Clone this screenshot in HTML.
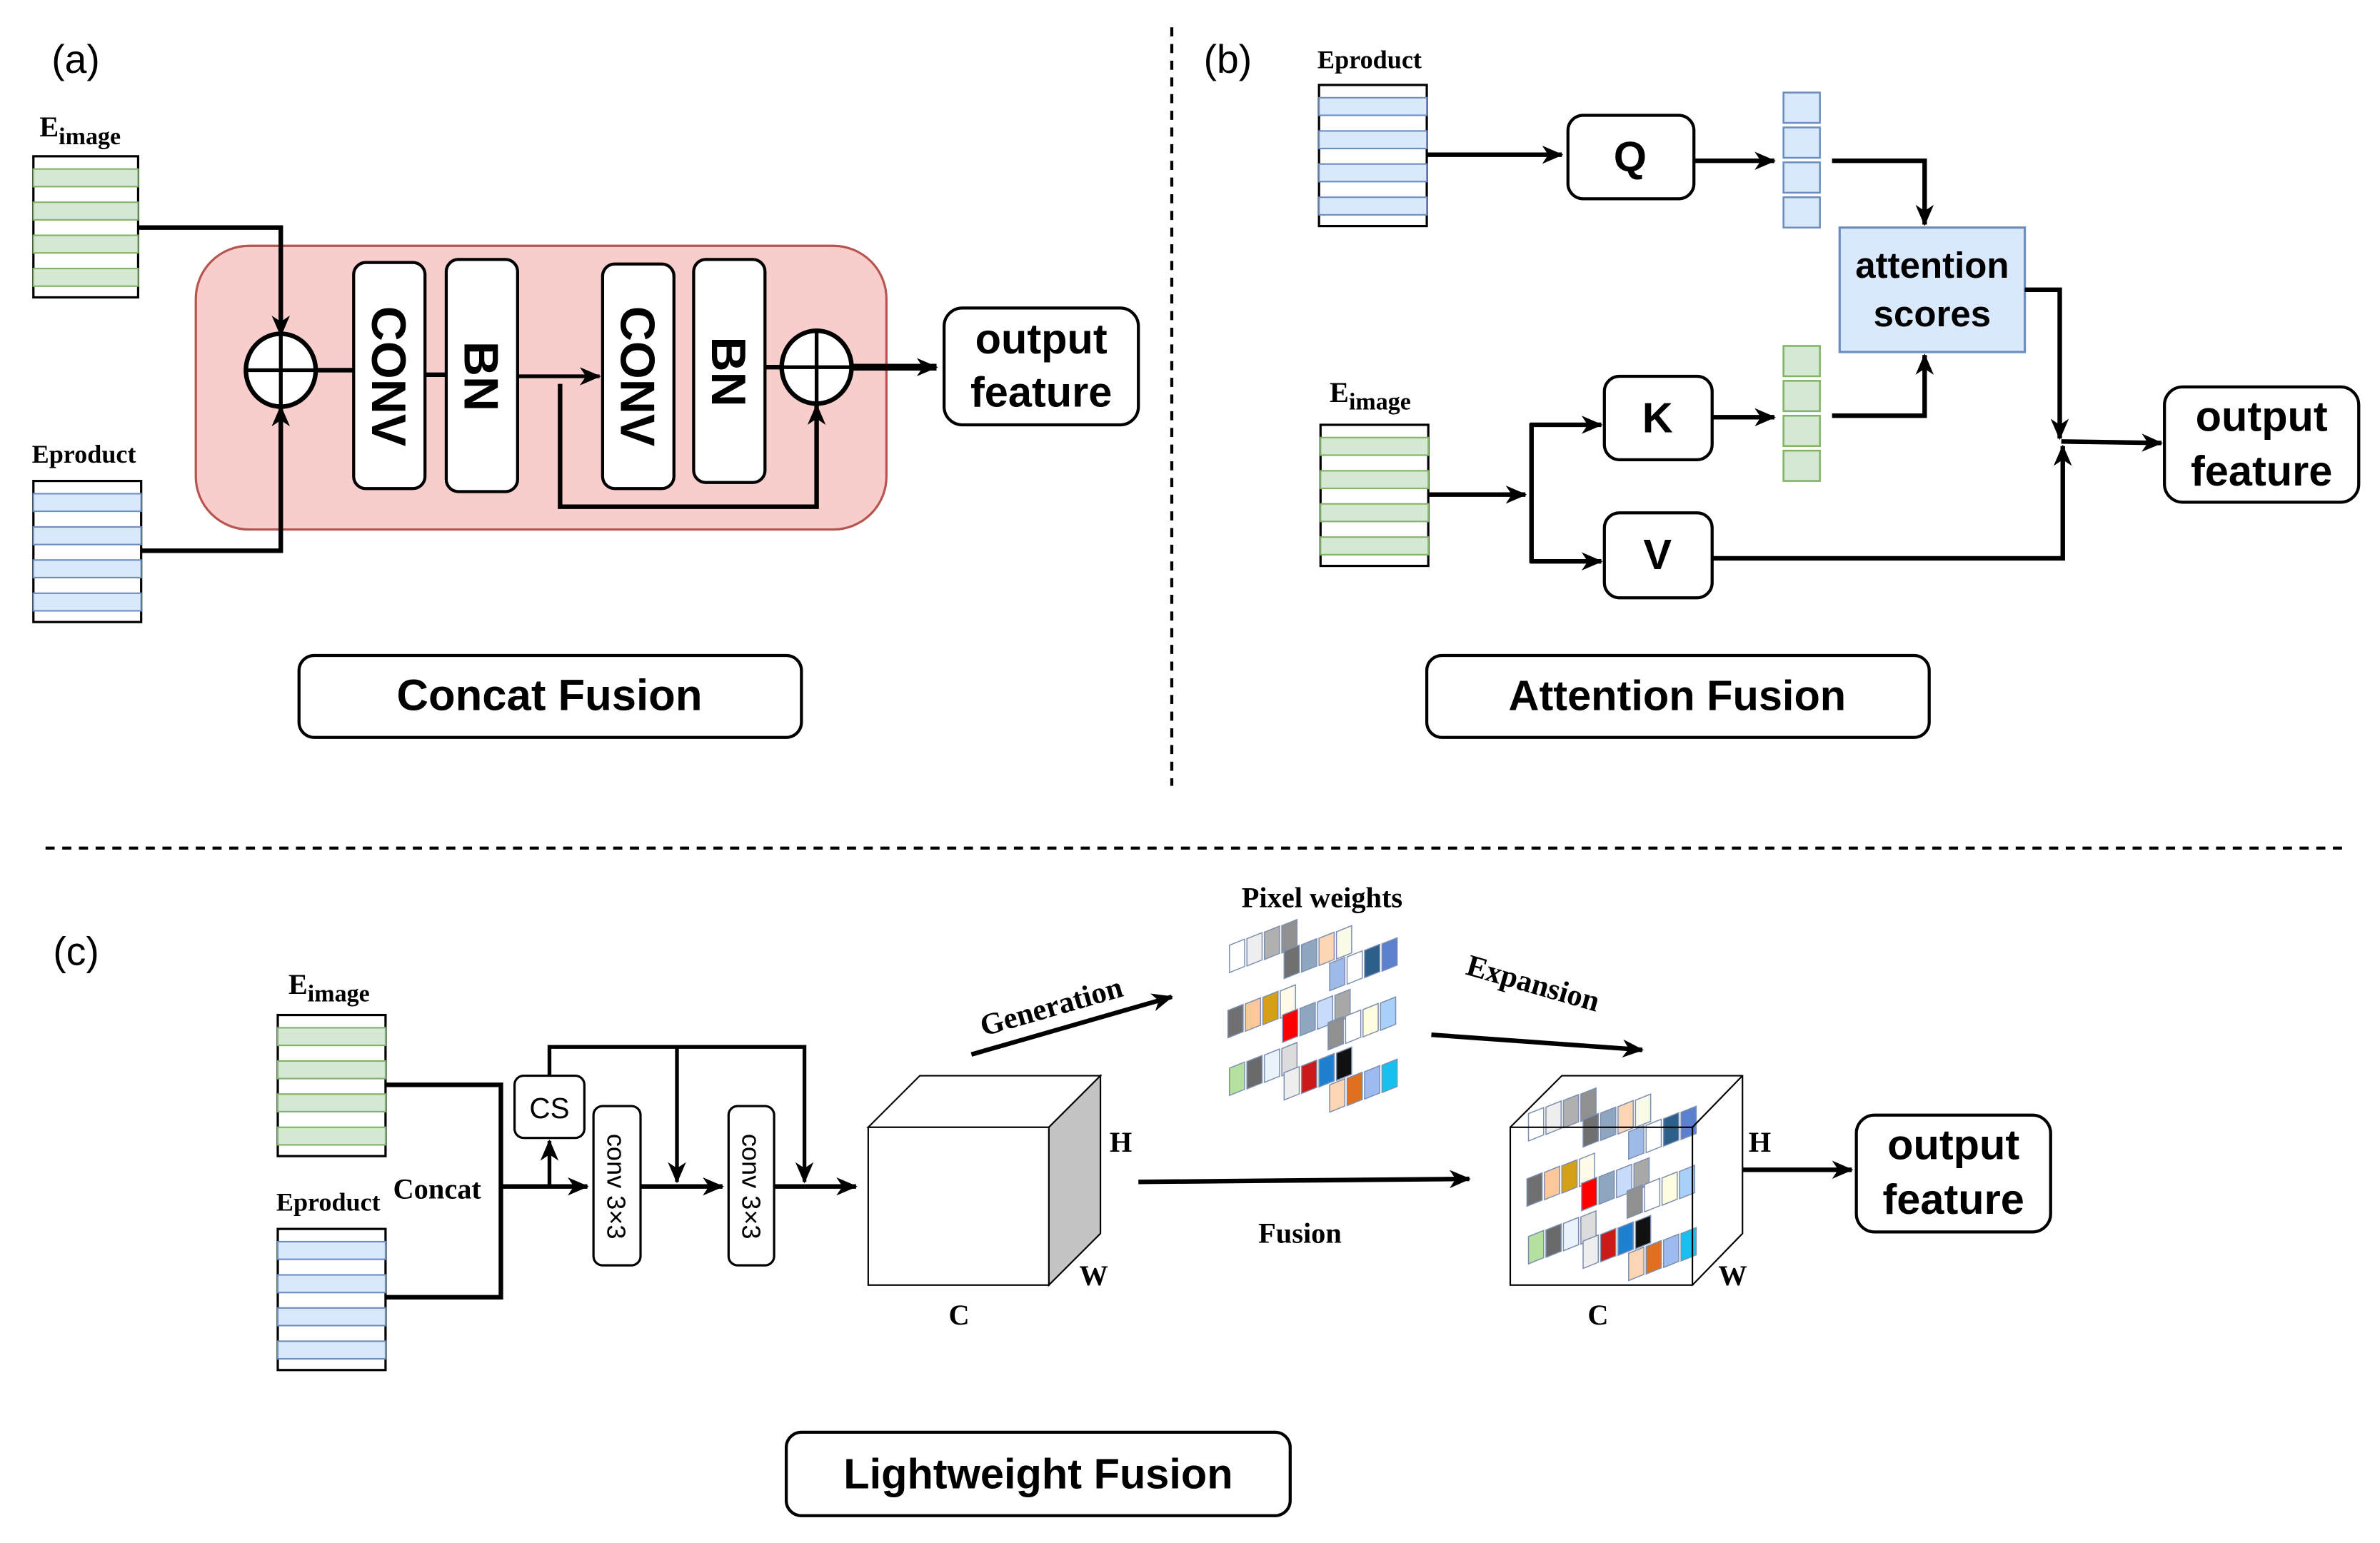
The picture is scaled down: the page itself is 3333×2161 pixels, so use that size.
<!DOCTYPE html>
<html><head><meta charset="utf-8"><style>
html,body{margin:0;padding:0;background:#fff}
svg{display:block}
.s{font-family:"Liberation Serif",serif;font-weight:bold}
.a{font-family:"Liberation Sans",sans-serif}
.ab{font-family:"Liberation Sans",sans-serif;font-weight:bold}
</style></head><body>
<svg xmlns="http://www.w3.org/2000/svg" width="3333" height="2161" viewBox="0 0 1568 1017" preserveAspectRatio="none">
<defs>
<marker id="ar" markerUnits="userSpaceOnUse" markerWidth="16" markerHeight="14" refX="13" refY="6" orient="auto">
<path d="M0,0 L14,6 L0,12 L4,6 z" fill="#000"/>
</marker>
<g id="tile"><polygon points="0,0 10,-4 10,-22 0,-18" stroke="#7d8fb0" stroke-width="0.7"/></g>
<g id="pw">
<g transform="translate(810,641)">
<use href="#tile" fill="#fff"/><use href="#tile" x="11.5" y="-4.3" fill="#eee"/><use href="#tile" x="23" y="-8.6" fill="#b0b0b0"/><use href="#tile" x="34.5" y="-12.9" fill="#909090"/></g>
<g transform="translate(846,645)">
<use href="#tile" fill="#707070"/><use href="#tile" x="11.5" y="-4.3" fill="#8ea6c0"/><use href="#tile" x="23" y="-8.6" fill="#fcd5b4"/><use href="#tile" x="34.5" y="-12.9" fill="#fafae8"/></g>
<g transform="translate(876,653)">
<use href="#tile" fill="#9ebbe8"/><use href="#tile" x="11.5" y="-4.3" fill="#fff"/><use href="#tile" x="23" y="-8.6" fill="#2c5f8a"/><use href="#tile" x="34.5" y="-12.9" fill="#5b80d0"/></g>
<g transform="translate(809,684)">
<use href="#tile" fill="#707070"/><use href="#tile" x="11.5" y="-4.3" fill="#fcc89b"/><use href="#tile" x="23" y="-8.6" fill="#d4a017"/><use href="#tile" x="34.5" y="-12.9" fill="#fffbe8"/></g>
<g transform="translate(845,687)">
<use href="#tile" fill="#ff0000"/><use href="#tile" x="11.5" y="-4.3" fill="#8ea6c0"/><use href="#tile" x="23" y="-8.6" fill="#c6dcfa"/><use href="#tile" x="34.5" y="-12.9" fill="#a8a8a8"/></g>
<g transform="translate(875,692)">
<use href="#tile" fill="#909090"/><use href="#tile" x="11.5" y="-4.3" fill="#fff"/><use href="#tile" x="23" y="-8.6" fill="#fffde0"/><use href="#tile" x="34.5" y="-12.9" fill="#a8d0f8"/></g>
<g transform="translate(810,722)">
<use href="#tile" fill="#b4e0a0"/><use href="#tile" x="11.5" y="-4.3" fill="#6a6a6a"/><use href="#tile" x="23" y="-8.6" fill="#eaf2fb"/><use href="#tile" x="34.5" y="-12.9" fill="#dcdcdc"/></g>
<g transform="translate(846,725)">
<use href="#tile" fill="#eee"/><use href="#tile" x="11.5" y="-4.3" fill="#cc1a1a"/><use href="#tile" x="23" y="-8.6" fill="#1f7fd0"/><use href="#tile" x="34.5" y="-12.9" fill="#111"/></g>
<g transform="translate(876,733)">
<use href="#tile" fill="#fcd5b4"/><use href="#tile" x="11.5" y="-4.3" fill="#e07020"/><use href="#tile" x="23" y="-8.6" fill="#9ebbf0"/><use href="#tile" x="34.5" y="-12.9" fill="#18c0f0"/></g>
</g>
</defs>

<!-- ===== (a) ===== -->
<text x="34" y="48" class="a" font-size="26">(a)</text>
<text x="26" y="90" class="s" font-size="19">E<tspan font-size="16" dy="5">image</tspan></text>
<g>
<rect x="22" y="103" width="69" height="93" fill="#fff" stroke="#000" stroke-width="1.5"/>
<rect x="22" y="111.4" width="69" height="11.6" fill="#d5e8d4" stroke="#82b366"/>
<rect x="22" y="133.3" width="69" height="11.6" fill="#d5e8d4" stroke="#82b366"/>
<rect x="22" y="155.1" width="69" height="11.6" fill="#d5e8d4" stroke="#82b366"/>
<rect x="22" y="177" width="69" height="11.6" fill="#d5e8d4" stroke="#82b366"/>
</g>
<text x="21" y="305" class="s" font-size="17">Eproduct</text>
<g>
<rect x="22" y="317" width="71" height="93" fill="#fff" stroke="#000" stroke-width="1.5"/>
<rect x="22" y="325.4" width="71" height="11.6" fill="#dae8fc" stroke="#6c8ebf"/>
<rect x="22" y="347.3" width="71" height="11.6" fill="#dae8fc" stroke="#6c8ebf"/>
<rect x="22" y="369.1" width="71" height="11.6" fill="#dae8fc" stroke="#6c8ebf"/>
<rect x="22" y="391" width="71" height="11.6" fill="#dae8fc" stroke="#6c8ebf"/>
</g>
<rect x="129" y="162" width="455" height="187" rx="35" fill="#f8cecc" stroke="#b85450" stroke-width="1.5"/>
<polyline points="91,150 185,150 185,221" fill="none" stroke="#000" stroke-width="3" marker-end="url(#ar)"/>
<polyline points="93,363 185,363 185,268" fill="none" stroke="#000" stroke-width="3" marker-end="url(#ar)"/>
<ellipse cx="185" cy="244" rx="23" ry="24" fill="#fff" stroke="#000" stroke-width="3"/>
<line x1="162" y1="244" x2="208" y2="244" stroke="#000" stroke-width="2.5"/>
<line x1="185" y1="220" x2="185" y2="268" stroke="#000" stroke-width="2.5"/>
<line x1="208" y1="244" x2="233" y2="244" stroke="#000" stroke-width="3"/>
<line x1="280" y1="247" x2="294" y2="247" stroke="#000" stroke-width="3"/>
<line x1="341" y1="248" x2="395" y2="248" stroke="#000" stroke-width="2.5" marker-end="url(#ar)"/>
<rect x="233" y="173" width="47" height="149" rx="8" fill="#fff" stroke="#000" stroke-width="2"/>
<rect x="294" y="171" width="47" height="153" rx="8" fill="#fff" stroke="#000" stroke-width="2"/>
<rect x="397" y="174" width="47" height="148" rx="8" fill="#fff" stroke="#000" stroke-width="2"/>
<rect x="457" y="171" width="47" height="147" rx="8" fill="#fff" stroke="#000" stroke-width="2"/>
<text transform="translate(245,248) rotate(90)" text-anchor="middle" class="ab" font-size="32">CONV</text>
<text transform="translate(306,248) rotate(90)" text-anchor="middle" class="ab" font-size="32">BN</text>
<text transform="translate(409,248) rotate(90)" text-anchor="middle" class="ab" font-size="32">CONV</text>
<text transform="translate(469,245) rotate(90)" text-anchor="middle" class="ab" font-size="32">BN</text>
<polyline points="369,253 369,334 538,334 538,267" fill="none" stroke="#000" stroke-width="3" marker-end="url(#ar)"/>
<line x1="504" y1="242" x2="515" y2="242" stroke="#000" stroke-width="3"/>
<ellipse cx="538" cy="242" rx="23" ry="24" fill="#fff" stroke="#000" stroke-width="3"/>
<line x1="515" y1="242" x2="561" y2="242" stroke="#000" stroke-width="2.5"/>
<line x1="538" y1="218" x2="538" y2="266" stroke="#000" stroke-width="2.5"/>
<line x1="561" y1="242" x2="617" y2="242" stroke="#000" stroke-width="4.5" marker-end="url(#ar)"/>
<rect x="622" y="203" width="128" height="77" rx="12" fill="#fff" stroke="#000" stroke-width="2"/>
<text x="686" y="233" text-anchor="middle" class="ab" font-size="28">output</text>
<text x="686" y="268" text-anchor="middle" class="ab" font-size="28">feature</text>
<rect x="197" y="432" width="331" height="54" rx="10" fill="#fff" stroke="#000" stroke-width="2"/>
<text x="362" y="468" text-anchor="middle" class="ab" font-size="29">Concat Fusion</text>

<line x1="772" y1="18" x2="772" y2="518" stroke="#000" stroke-width="2" stroke-dasharray="6,5"/>
<line x1="30" y1="559" x2="1545" y2="559" stroke="#000" stroke-width="2" stroke-dasharray="6,5"/>

<!-- ===== (b) ===== -->
<text x="793" y="48" class="a" font-size="26">(b)</text>
<text x="868" y="45" class="s" font-size="17">Eproduct</text>
<g>
<rect x="869" y="56" width="71" height="93" fill="#fff" stroke="#000" stroke-width="1.5"/>
<rect x="869" y="64.4" width="71" height="11.6" fill="#dae8fc" stroke="#6c8ebf"/>
<rect x="869" y="86.3" width="71" height="11.6" fill="#dae8fc" stroke="#6c8ebf"/>
<rect x="869" y="108.1" width="71" height="11.6" fill="#dae8fc" stroke="#6c8ebf"/>
<rect x="869" y="130" width="71" height="11.6" fill="#dae8fc" stroke="#6c8ebf"/>
</g>
<line x1="940" y1="102" x2="1029" y2="102" stroke="#000" stroke-width="3" marker-end="url(#ar)"/>
<rect x="1033" y="76" width="83" height="55" rx="10" fill="#fff" stroke="#000" stroke-width="2"/>
<text x="1074" y="113" text-anchor="middle" class="ab" font-size="28">Q</text>
<line x1="1116" y1="106" x2="1169" y2="106" stroke="#000" stroke-width="3" marker-end="url(#ar)"/>
<g fill="#dae8fc" stroke="#6c8ebf" stroke-width="1.2">
<rect x="1175" y="61" width="24" height="20"/><rect x="1175" y="84" width="24" height="20"/><rect x="1175" y="107" width="24" height="20"/><rect x="1175" y="130" width="24" height="20"/>
</g>
<polyline points="1207,106 1268,106 1268,148" fill="none" stroke="#000" stroke-width="3" marker-end="url(#ar)"/>
<rect x="1212" y="150" width="122" height="82" fill="#dae8fc" stroke="#6c8ebf" stroke-width="1.5"/>
<text x="1273" y="183" text-anchor="middle" class="ab" font-size="24">attention</text>
<text x="1273" y="215" text-anchor="middle" class="ab" font-size="24">scores</text>
<text x="876" y="265" class="s" font-size="19">E<tspan font-size="16" dy="5">image</tspan></text>
<g>
<rect x="870" y="280" width="71" height="93" fill="#fff" stroke="#000" stroke-width="1.5"/>
<rect x="870" y="288.4" width="71" height="11.6" fill="#d5e8d4" stroke="#82b366"/>
<rect x="870" y="310.3" width="71" height="11.6" fill="#d5e8d4" stroke="#82b366"/>
<rect x="870" y="332.1" width="71" height="11.6" fill="#d5e8d4" stroke="#82b366"/>
<rect x="870" y="354" width="71" height="11.6" fill="#d5e8d4" stroke="#82b366"/>
</g>
<line x1="941" y1="326" x2="1005" y2="326" stroke="#000" stroke-width="3" marker-end="url(#ar)"/>
<line x1="1009" y1="279" x2="1009" y2="371" stroke="#000" stroke-width="3"/>
<line x1="1008" y1="280" x2="1055" y2="280" stroke="#000" stroke-width="3" marker-end="url(#ar)"/>
<line x1="1008" y1="370" x2="1055" y2="370" stroke="#000" stroke-width="3" marker-end="url(#ar)"/>
<rect x="1057" y="248" width="71" height="55" rx="10" fill="#fff" stroke="#000" stroke-width="2"/>
<text x="1092" y="285" text-anchor="middle" class="ab" font-size="28">K</text>
<rect x="1057" y="338" width="71" height="56" rx="10" fill="#fff" stroke="#000" stroke-width="2"/>
<text x="1092" y="375" text-anchor="middle" class="ab" font-size="28">V</text>
<line x1="1128" y1="275" x2="1169" y2="275" stroke="#000" stroke-width="3" marker-end="url(#ar)"/>
<g fill="#d5e8d4" stroke="#82b366" stroke-width="1.2">
<rect x="1175" y="228" width="24" height="20"/><rect x="1175" y="251" width="24" height="20"/><rect x="1175" y="274" width="24" height="20"/><rect x="1175" y="297" width="24" height="20"/>
</g>
<polyline points="1207,274 1268,274 1268,234" fill="none" stroke="#000" stroke-width="3" marker-end="url(#ar)"/>
<polyline points="1128,368 1359,368 1359,294" fill="none" stroke="#000" stroke-width="3" marker-end="url(#ar)"/>
<polyline points="1334,191 1357,191 1357,289" fill="none" stroke="#000" stroke-width="3" marker-end="url(#ar)"/>
<line x1="1358" y1="291" x2="1424" y2="292" stroke="#000" stroke-width="3" marker-end="url(#ar)"/>
<rect x="1426" y="255" width="128" height="76" rx="12" fill="#fff" stroke="#000" stroke-width="2"/>
<text x="1490" y="284" text-anchor="middle" class="ab" font-size="28">output</text>
<text x="1490" y="320" text-anchor="middle" class="ab" font-size="28">feature</text>
<rect x="940" y="432" width="331" height="54" rx="10" fill="#fff" stroke="#000" stroke-width="2"/>
<text x="1105" y="468" text-anchor="middle" class="ab" font-size="28">Attention Fusion</text>

<!-- ===== (c) ===== -->
<text x="35" y="636" class="a" font-size="26">(c)</text>
<text x="190" y="655" class="s" font-size="19">E<tspan font-size="16" dy="5">image</tspan></text>
<g>
<rect x="183" y="669" width="71" height="93" fill="#fff" stroke="#000" stroke-width="1.5"/>
<rect x="183" y="677.4" width="71" height="11.6" fill="#d5e8d4" stroke="#82b366"/>
<rect x="183" y="699.3" width="71" height="11.6" fill="#d5e8d4" stroke="#82b366"/>
<rect x="183" y="721.1" width="71" height="11.6" fill="#d5e8d4" stroke="#82b366"/>
<rect x="183" y="743" width="71" height="11.6" fill="#d5e8d4" stroke="#82b366"/>
</g>
<text x="182" y="798" class="s" font-size="17">Eproduct</text>
<g>
<rect x="183" y="810" width="71" height="93" fill="#fff" stroke="#000" stroke-width="1.5"/>
<rect x="183" y="818.4" width="71" height="11.6" fill="#dae8fc" stroke="#6c8ebf"/>
<rect x="183" y="840.3" width="71" height="11.6" fill="#dae8fc" stroke="#6c8ebf"/>
<rect x="183" y="862.1" width="71" height="11.6" fill="#dae8fc" stroke="#6c8ebf"/>
<rect x="183" y="884" width="71" height="11.6" fill="#dae8fc" stroke="#6c8ebf"/>
</g>
<polyline points="254,715 330,715 330,855 254,855" fill="none" stroke="#000" stroke-width="3"/>
<text x="259" y="790" class="s" font-size="19">Concat</text>
<line x1="330" y1="782" x2="387" y2="782" stroke="#000" stroke-width="3" marker-end="url(#ar)"/>
<line x1="362" y1="782" x2="362" y2="752" stroke="#000" stroke-width="2.5" marker-end="url(#ar)"/>
<polyline points="362,709 362,690 530,690 530,779" fill="none" stroke="#000" stroke-width="2.5" marker-end="url(#ar)"/>
<line x1="446" y1="690" x2="446" y2="779" stroke="#000" stroke-width="2.5" marker-end="url(#ar)"/>
<rect x="339" y="709" width="46" height="41" rx="6" fill="#fff" stroke="#000" stroke-width="1.5"/>
<text x="362" y="737" text-anchor="middle" class="a" font-size="19">CS</text>
<rect x="391" y="729" width="31" height="105" rx="6" fill="#fff" stroke="#000" stroke-width="1.5"/>
<text transform="translate(400,782) rotate(90)" text-anchor="middle" class="a" font-size="17">conv 3×3</text>
<line x1="422" y1="782" x2="476" y2="782" stroke="#000" stroke-width="3" marker-end="url(#ar)"/>
<rect x="480" y="729" width="30" height="105" rx="6" fill="#fff" stroke="#000" stroke-width="1.5"/>
<text transform="translate(489,782) rotate(90)" text-anchor="middle" class="a" font-size="17">conv 3×3</text>
<line x1="510" y1="782" x2="564" y2="782" stroke="#000" stroke-width="3" marker-end="url(#ar)"/>
<!-- cube 1 -->
<polygon points="572,743 606,709 725,709 691,743" fill="#fff" stroke="#000" stroke-width="1"/>
<polygon points="691,743 725,709 725,813 691,847" fill="#c4c4c4" stroke="#000" stroke-width="1"/>
<rect x="572" y="743" width="119" height="104" fill="#fff" stroke="#000" stroke-width="1"/>
<text x="731" y="759" class="s" font-size="19">H</text>
<text x="711" y="847" class="s" font-size="19">W</text>
<text x="625" y="873" class="s" font-size="19">C</text>
<line x1="750" y1="779" x2="968" y2="777" stroke="#000" stroke-width="3" marker-end="url(#ar)"/>
<text x="829" y="819" class="s" font-size="19">Fusion</text>
<line x1="640" y1="695" x2="772" y2="657" stroke="#000" stroke-width="3" marker-end="url(#ar)"/>
<text transform="translate(648,683) rotate(-16)" class="s" font-size="20">Generation</text>
<text x="818" y="598" class="s" font-size="19">Pixel weights</text>
<use href="#pw"/>
<text transform="translate(965,642) rotate(16)" class="s" font-size="20">Expansion</text>
<line x1="943" y1="682" x2="1082" y2="692" stroke="#000" stroke-width="3" marker-end="url(#ar)"/>
<!-- cube 2 -->
<rect x="995" y="743" width="120" height="104" fill="#fff" stroke="none"/>
<use href="#pw" transform="translate(197,111)"/>
<g fill="none" stroke="#000" stroke-width="1">
<polyline points="995,743 1029,709 1148,709 1148,813 1115,847"/>
<line x1="1115" y1="743" x2="1148" y2="709"/>
<rect x="995" y="743" width="120" height="104"/>
</g>
<text x="1152" y="759" class="s" font-size="19">H</text>
<text x="1132" y="847" class="s" font-size="19">W</text>
<text x="1046" y="873" class="s" font-size="19">C</text>
<line x1="1148" y1="771" x2="1220" y2="771" stroke="#000" stroke-width="3" marker-end="url(#ar)"/>
<rect x="1223" y="735" width="128" height="77" rx="12" fill="#fff" stroke="#000" stroke-width="2"/>
<text x="1287" y="764" text-anchor="middle" class="ab" font-size="28">output</text>
<text x="1287" y="800" text-anchor="middle" class="ab" font-size="28">feature</text>
<rect x="518" y="944" width="332" height="55" rx="10" fill="#fff" stroke="#000" stroke-width="2"/>
<text x="684" y="981" text-anchor="middle" class="ab" font-size="28">Lightweight Fusion</text>
</svg>
</body></html>
